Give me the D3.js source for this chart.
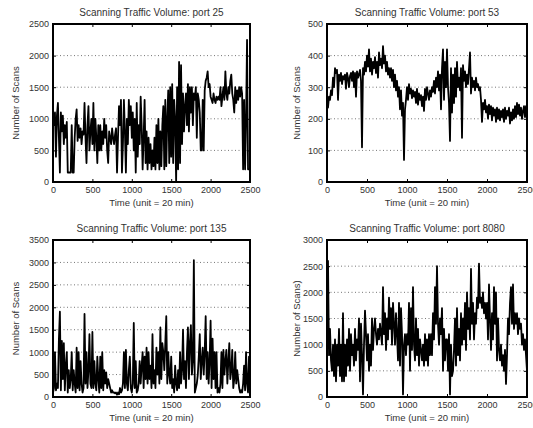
<!doctype html>
<html lang="en">
<head>
<meta charset="UTF-8">
<title>Scanning Traffic Volume</title>
<style>
  body { margin: 0; background: #fff; }
  text { font-family: "Liberation Sans", Arial, sans-serif; fill: #333; }
  .grid line { stroke: #666; stroke-dasharray: 1,2.5; stroke-width: 0.9; }
  .axis path { display: none; }
  .axis line { stroke: #000; stroke-width: 1; }
  .axis text { font-size: 9px; }
</style>
</head>
<body>
<svg id="chart" width="533" height="428"></svg>
<script src="https://d3js.org/d3.v7.min.js"></script>
<script>
// sampling step of the series (time units of 20 min)
let step = 12.5;
let xTicks = [0, 500, 1000, 1500, 2000, 2500];

let port25 = [
  1000, 900, 1100, 400, 1050, 1250, 700, 150,
  1100, 800, 1050, 600, 900, 700, 950, 150,
  150, 150, 150, 900, 150, 150, 700, 1000,
  1150, 650, 900, 700, 850, 600, 800, 750,
  1250, 700, 300, 900, 1200, 500, 800, 1000,
  600, 1250, 500, 1000, 700, 300, 900, 500,
  900, 500, 800, 600, 1000, 700, 900, 500,
  300, 800, 700, 600, 850, 700, 600, 750,
  850, 150, 700, 1200, 900, 1300, 150, 600,
  1300, 800, 150, 1000, 600, 1300, 900, 1200,
  700, 1100, 500, 1000, 150, 1250, 400, 900,
  600, 1350, 900, 200, 700, 1300, 300, 800,
  200, 700, 300, 600, 200, 500, 250, 700,
  200, 900, 300, 1000, 200, 800, 250, 900,
  1200, 200, 1300, 250, 1000, 1450, 300, 1500,
  400, 1550, 300, 1300, 1000, 0, 1500, 200,
  1900, 300, 1850, 600, 1400, 800, 1200, 1400,
  900, 1550, 800, 1500, 1100, 1500, 900, 1400,
  1300, 1500, 700, 1400, 1300, 1100, 500, 500,
  1300, 500, 1450, 1600, 1650, 1750, 1500, 1550,
  1350, 1300, 1250, 1400, 1300, 1250, 1350, 1300,
  1350, 1300, 1500, 1200, 1350, 1500, 1300, 1750,
  1400, 1300, 1500, 1400, 1600, 1700, 1400, 1300,
  1100, 1500, 1250, 1450, 1300, 1500, 1350, 1500,
  1400, 200, 1300, 200, 1000, 2250, 200, 200,
  200
];

let port53 = [
  250, 235, 270, 260, 290, 275, 330, 300,
  360, 345, 355, 260, 340, 320, 345, 310,
  335, 325, 340, 295, 345, 330, 300, 335,
  345, 320, 350, 300, 345, 270, 350, 330,
  340, 355, 320, 110, 360, 340, 380, 350,
  400, 365, 420, 350, 390, 340, 380, 360,
  395, 345, 380, 330, 410, 370, 390, 360,
  430, 375, 400, 350, 380, 340, 360, 330,
  360, 320, 355, 300, 340, 290, 320, 270,
  300, 230, 290, 210, 250, 70, 230, 260,
  300, 260, 310, 280, 295, 265, 290, 270,
  285, 250, 295, 245, 280, 260, 275, 240,
  270, 225, 295, 260, 300, 280, 260, 290,
  270, 300, 285, 320, 280, 330, 300, 350,
  290, 340, 230, 360, 420, 260, 380, 300,
  420, 300, 250, 130, 360, 220, 340, 250,
  360, 270, 380, 300, 330, 290, 360, 140,
  370, 320, 350, 300, 340, 310, 360, 410,
  280, 330, 300, 320, 290, 330, 300, 310,
  290, 300, 260, 190, 250, 230, 260, 220,
  240, 200, 245, 215, 240, 195, 235, 210,
  230, 190, 235, 200, 230, 195, 225, 205,
  230, 190, 235, 200, 225, 210, 235, 185,
  220, 195, 230, 200, 240, 205, 250, 215,
  245, 210, 235, 200, 225, 240, 205, 240,
  230
];

let port135 = [
  100, 200, 1000, 150, 300, 200, 1300, 1900,
  150, 1250, 400, 1200, 150, 700, 1000, 100,
  600, 200, 400, 1000, 150, 600, 300, 100,
  1100, 200, 1000, 150, 800, 300, 100, 200,
  1850, 300, 1000, 200, 600, 1400, 300, 200,
  1450, 200, 800, 300, 150, 900, 400, 100,
  900, 200, 1000, 150, 600, 300, 550, 200,
  400, 300, 200, 100, 150, 100, 100, 80,
  100, 50, 100, 60, 200, 100, 150, 300,
  1000, 200, 1050, 300, 150, 600, 900, 200,
  100, 300, 1650, 200, 800, 100, 150, 300,
  800, 300, 700, 1000, 200, 900, 400, 1100,
  300, 1000, 400, 700, 200, 1400, 300, 600,
  200, 1100, 500, 1000, 300, 1550, 400, 1200,
  1000, 600, 1200, 1800, 300, 1000, 500, 300,
  900, 200, 400, 100, 700, 300, 150, 600,
  200, 1000, 300, 600, 1500, 400, 800, 200,
  1000, 1550, 400, 1200, 1600, 500, 800, 3050,
  100, 200, 300, 500, 900, 1400, 400, 800,
  1100, 500, 1000, 1800, 400, 1000, 300, 800,
  1700, 200, 1300, 400, 1000, 200, 1000, 100,
  200, 100, 300, 1000, 200, 1050, 500, 800,
  1050, 300, 800, 1200, 400, 600, 1050, 200,
  400, 1000, 300, 600, 400, 200, 100, 150,
  100, 300, 700, 150, 1000, 300, 100, 900,
  100
];

let port8080 = [
  1200, 2600, 800, 1300, 700, 500, 1000, 400,
  1100, 300, 1000, 600, 1300, 400, 1000, 300,
  1600, 300, 1000, 400, 1100, 600, 1300, 500,
  1200, 800, 1000, 600, 1300, 700, 1100, 900,
  1500, 300, 1400, 800, 50, 1000, 1650, 1200,
  700, 1200, 500, 1000, 600, 1500, 900, 1300,
  1500, 1200, 1000, 1300, 1100, 1400, 1200, 1000,
  2100, 1200, 1600, 900, 1500, 1100, 1900, 1300,
  1700, 1000, 1800, 1400, 1000, 1600, 1200, 700,
  1800, 600, 1700, 1200, 50, 1000, 1200, 800,
  1200, 1000, 1800, 500, 1700, 900, 2100, 1000,
  700, 1500, 800, 1300, 600, 1100, 900, 700,
  1000, 600, 1200, 700, 1100, 600, 1200, 800,
  1200, 800, 1600, 1100, 2100, 1400, 2500, 1400,
  1000, 1500, 1200, 1700, 500, 1300, 700, 1100,
  1100, 500, 1200, 50, 1000, 400, 500, 900,
  1500, 600, 1700, 800, 1300, 700, 1600, 1000,
  1500, 1100, 1800, 900, 2000, 1300, 1700, 1100,
  2450, 1400, 1800, 1100, 1600, 1400, 1900, 1700,
  2550, 1800, 1900, 1700, 2000, 1600, 1800, 1500,
  1800, 1100, 2150, 1500, 900, 1600, 1100, 2100,
  1400, 2000, 700, 1500, 900, 700, 1000, 600,
  800, 500, 900, 250, 800, 1500, 1200, 1800,
  2100, 1400, 2150, 1300, 1600, 1400, 1600, 1200,
  1500, 1300, 1400, 1000, 1200, 900, 1100, 800,
  500
];

let panels = [
  {title: "Scanning Traffic Volume: port 25", ylabel: "Number of Scans", values: port25,
   yMax: 2500, yTicks: [0, 500, 1000, 1500, 2000, 2500]},
  {title: "Scanning Traffic Volume: port 53", ylabel: "Number of Scans", values: port53,
   yMax: 500, yTicks: [0, 100, 200, 300, 400, 500]},
  {title: "Scanning Traffic Volume: port 135", ylabel: "Number of Scans", values: port135,
   yMax: 3500, yTicks: [0, 500, 1000, 1500, 2000, 2500, 3000, 3500]},
  {title: "Scanning Traffic Volume: port 8080", ylabel: "Number of Scans)", values: port8080,
   yMax: 3000, yTicks: [0, 500, 1000, 1500, 2000, 2500, 3000]}
];

// panel boxes in page pixels
let boxes = [
  {left: 53, right: 250, top: 24, bottom: 182, yl: 16},
  {left: 327, right: 527, top: 24, bottom: 182, yl: 297},
  {left: 53, right: 250, top: 240, bottom: 397, yl: 16},
  {left: 327, right: 527, top: 240, bottom: 397, yl: 297}
];

let svg = d3.select("#chart");
let fmt = d3.format("d");

panels.forEach(function(p, i) {
  let b = boxes[i];
  let x = d3.scaleLinear().domain([0, 2500]).range([b.left, b.right]);
  let y = d3.scaleLinear().domain([0, p.yMax]).range([b.bottom, b.top]);
  let g = svg.append("g");

  // dotted horizontal grid
  g.append("g")
    .attr("class", "grid")
    .selectAll("line")
    .data(p.yTicks.slice(1, -1))
    .enter().append("line")
    .attr("x1", b.left).attr("x2", b.right)
    .attr("y1", function(d) { return y(d); })
    .attr("y2", function(d) { return y(d); });

  // the series
  let line = d3.line()
    .x(function(d, k) { return x(k * step); })
    .y(function(d) { return y(d); });

  g.append("path")
    .datum(p.values)
    .attr("d", line)
    .attr("fill", "none")
    .attr("stroke", "#000")
    .attr("stroke-width", 1.8)
    .attr("stroke-linejoin", "round");

  // axes with inward ticks
  g.append("g")
    .attr("class", "axis")
    .attr("transform", "translate(0," + b.bottom + ")")
    .call(d3.axisBottom(x).tickValues(xTicks).tickFormat(fmt)
      .tickSizeInner(-3).tickSizeOuter(0).tickPadding(5));
  g.append("g")
    .attr("class", "axis")
    .attr("transform", "translate(0," + b.top + ")")
    .call(d3.axisTop(x).tickValues(xTicks).tickSizeInner(-3).tickSizeOuter(0).tickFormat(""));
  g.append("g")
    .attr("class", "axis")
    .attr("transform", "translate(" + b.left + ",0)")
    .call(d3.axisLeft(y).tickValues(p.yTicks).tickFormat(fmt)
      .tickSizeInner(-3).tickSizeOuter(0).tickPadding(4));
  g.append("g")
    .attr("class", "axis")
    .attr("transform", "translate(" + b.right + ",0)")
    .call(d3.axisRight(y).tickValues(p.yTicks).tickSizeInner(-3).tickSizeOuter(0).tickFormat(""));

  // frame
  g.append("rect")
    .attr("x", b.left).attr("y", b.top)
    .attr("width", b.right - b.left).attr("height", b.bottom - b.top)
    .attr("fill", "none")
    .attr("stroke", "#000")
    .attr("stroke-width", 2);

  g.append("text")
    .attr("x", (b.left + b.right) / 2)
    .attr("y", b.top - 8)
    .attr("text-anchor", "middle")
    .attr("font-size", "10px")
    .text(p.title);

  g.append("text")
    .attr("x", (b.left + b.right) / 2)
    .attr("y", b.bottom + 24)
    .attr("text-anchor", "middle")
    .attr("font-size", "9.5px")
    .text("Time (unit = 20 min)");

  g.append("text")
    .attr("transform", "translate(" + b.yl + "," + ((b.top + b.bottom) / 2) + ") rotate(-90)")
    .attr("text-anchor", "middle")
    .attr("dy", "0.35em")
    .attr("font-size", "9.5px")
    .text(p.ylabel);
});
</script>
</body>
</html>
